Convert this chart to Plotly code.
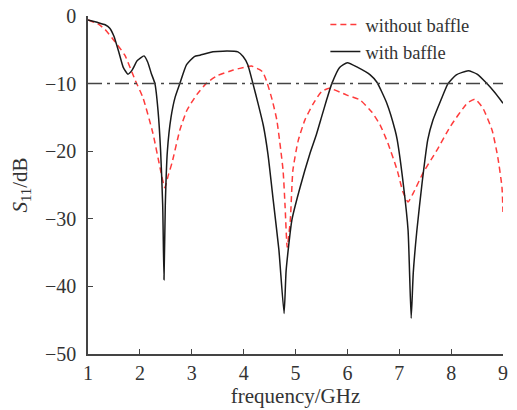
import plotly.graph_objects as go

# with baffle (black solid)
f_with = [1.0, 1.2, 1.33, 1.42, 1.5, 1.6, 1.68, 1.77, 1.85, 1.95, 2.08, 2.15, 2.22, 2.29, 2.35, 2.40, 2.44, 2.465,
          2.49, 2.53, 2.6, 2.68, 2.77, 2.9, 3.05, 3.16, 3.41, 3.6, 3.89, 3.99, 4.08, 4.18, 4.28, 4.38, 4.47, 4.57,
          4.68, 4.78, 4.82, 4.93, 5.09, 5.28, 5.4, 5.5, 5.6, 5.70, 5.85, 6.0, 6.2, 6.44, 6.57, 6.76, 6.92, 6.96,
          7.08, 7.17, 7.23, 7.27, 7.34, 7.44, 7.55, 7.65, 7.8, 7.94, 8.1, 8.33, 8.5, 8.69, 8.85, 9.0]
s_with = [-0.6, -1.0, -1.3, -1.8, -3.0, -5.5, -7.6, -8.6, -8.0, -6.6, -5.9, -6.8, -8.5, -10.0, -14.0, -20.0, -28.0, -39.0,
          -28.0, -20.0, -15.0, -12.0, -10.0, -7.2, -6.0, -5.8, -5.3, -5.2, -5.3, -6.0, -7.2, -10.0, -13.0, -16.2, -20.5, -27.2,
          -34.6, -44.0, -37.6, -30.2, -25.3, -20.3, -17.6, -15.0, -12.4, -10.0, -7.6, -6.9, -7.6, -8.7, -9.8, -12.9, -16.9, -18.3,
          -25.0, -31.7, -44.7, -38.0, -31.7, -24.7, -18.3, -15.4, -12.5, -10.0, -8.7, -8.1, -8.6, -10.0, -11.4, -12.9]

# without baffle (red dashed)
f_without = [1.0, 1.2, 1.33, 1.52, 1.71, 1.91, 2.06, 2.25, 2.39, 2.48, 2.55, 2.62, 2.77, 2.91, 3.1, 3.29, 3.5, 3.8,
             4.06, 4.15, 4.3, 4.37, 4.45, 4.55, 4.64, 4.76, 4.8, 4.84, 4.9, 4.95, 5.05, 5.18, 5.34, 5.5, 5.65,
             5.99, 6.24, 6.47, 6.63, 6.78, 6.96, 7.07, 7.17, 7.27, 7.46, 7.73, 7.98, 8.31, 8.46, 8.61, 8.79, 8.9,
             8.98, 9.0]
s_without = [-0.6, -1.2, -2.0, -3.8, -5.8, -9.5, -12.1, -17.3, -22.5, -25.4, -23.5, -21.7, -16.9, -13.9, -11.6, -9.9, -8.8, -8.0,
             -7.5, -7.4, -7.9, -8.3, -9.8, -12.4, -15.4, -22.8, -28.3, -34.2, -30.2, -22.8, -18.5, -15.4, -13.0, -11.2, -10.7,
             -11.7, -12.4, -14.2, -16.1, -18.8, -22.8, -26.0, -27.5, -26.2, -23.2, -19.8, -16.4, -12.9, -12.3, -13.6, -16.9, -20.9,
             -25.3, -29.0]

x_ticks = [1, 2, 3, 4, 5, 6, 7, 8, 9]
y_ticks = [0, -10, -20, -30, -40, -50]
y_tick_text = ["0", "\u221210", "\u221220", "\u221230", "\u221240", "\u221250"]
threshold = -10

FONT = "Liberation Serif, Times New Roman, serif"

fig = go.Figure()
fig.add_trace(go.Scatter(x=f_without, y=s_without, mode="lines", name="without baffle",
                         line=dict(color="#ff3b3b", width=1.5, dash="6px,4px", shape="spline", smoothing=0.5)))
fig.add_trace(go.Scatter(x=f_with, y=s_with, mode="lines", name="with baffle",
                         line=dict(color="#1a1a1a", width=1.5, shape="spline", smoothing=0.5)))

fig.add_shape(type="line", xref="paper", yref="y", x0=0, x1=1, y0=threshold, y1=threshold,
              line=dict(color="#444444", width=1.5, dash="14px,5px,3px,5px"))

fig.update_layout(
    width=517, height=410,
    margin=dict(l=88, r=14, t=16, b=56, autoexpand=False),
    paper_bgcolor="white", plot_bgcolor="white",
    font=dict(family=FONT, size=20, color="#333333"),
    showlegend=True,
    legend=dict(x=0.572, y=1.03, xanchor="left", yanchor="top", bgcolor="rgba(0,0,0,0)",
                font=dict(family=FONT, size=18.5, color="#333333"), tracegroupgap=0, itemwidth=30),
    xaxis=dict(range=[1, 9], tickvals=x_ticks, ticks="inside", ticklen=5, tickwidth=1.2, tickcolor="#444",
               showline=True, linecolor="#444", linewidth=1.5, showgrid=False, zeroline=False, automargin=False,
               ticklabelstandoff=0,
               title=dict(text="frequency/GHz", font=dict(family=FONT, size=21, color="#333"), standoff=4),
               tickfont=dict(family=FONT, size=20, color="#333")),
    yaxis=dict(range=[-50, 0], tickvals=y_ticks, ticktext=y_tick_text, ticks="inside", ticklen=5, tickwidth=1.2,
               tickcolor="#444", showline=True, linecolor="#444", linewidth=1.5, showgrid=False, zeroline=False,
               automargin=False, ticklabelstandoff=6,
               title=dict(text="<i>S</i><sub>11</sub>/dB", font=dict(family=FONT, size=21, color="#333"), standoff=12),
               tickfont=dict(family=FONT, size=20, color="#333")),
)

fig.write_html("out.html", config={"displayModeBar": False},
               post_script="document.body.style.margin='0';")
